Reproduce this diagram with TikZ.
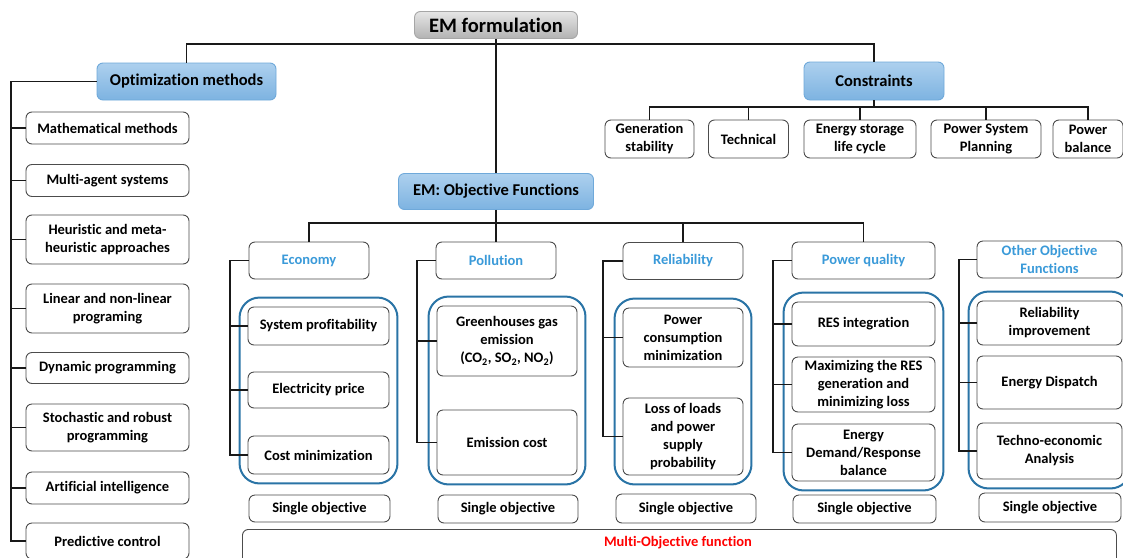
\documentclass[tikz,border=0pt]{standalone}
\usepackage{fontspec}
\setmainfont{Carlito}[Ligatures=NoCommon]
\usepackage{xcolor}
\usetikzlibrary{positioning,fit,calc}

\definecolor{maintop}{HTML}{ADD0EE}
\definecolor{mainbot}{HTML}{7DB3E1}
\definecolor{mainline}{HTML}{6FA9DA}
\definecolor{catblue}{HTML}{3A9AD9}
\definecolor{groupblue}{HTML}{2A74A6}

\begin{document}
\begin{tikzpicture}[
        %Picture in pixel units, y pointing down
        x=1pt, y=-1pt,
        link/.style={line width=1.4pt, black!90},
        item/.style={draw=black!70, line width=0.9pt, rounded corners=6pt, fill=white,
            align=center, inner sep=0pt, font=\bfseries\fontsize{14.5}{18}\selectfont},
        cat/.style={item, text=catblue},
        main/.style={draw=mainline, line width=0.9pt, rounded corners=6pt,
            top color=maintop, bottom color=mainbot, inner sep=0pt,
            font=\bfseries\fontsize{16.5}{20}\selectfont},
        group/.style={draw=groupblue, line width=2pt, rounded corners=20pt,
            inner xsep=8pt, inner ysep=9pt},
        every node/.style={color=black}
    ]
    \useasboundingbox[fill=white] (0,0) rectangle (1123,557);

    % Top level
    \node[main, draw=black!35, top color=black!10, bottom color=black!30,
        font=\bfseries\fontsize{20.5}{24}\selectfont,
        minimum width=163, minimum height=27] (emf) at (496,25) {EM formulation};
    \node[main, minimum width=179, minimum height=37] (opt) at (186.5,81.5) {Optimization methods};
    \node[main, minimum width=140, minimum height=38] (cons) at (874,81) {Constraints};
    \node[main, minimum width=195, minimum height=36] (obj) at (496,191.5) {EM: Objective Functions};

    % Constraints
    \node[item, minimum width=89, minimum height=38] (gs) at (649.5,139) {Generation\\stability};
    \node[item, minimum width=80, minimum height=38] (tech) at (748.5,139) {Technical};
    \node[item, minimum width=112, minimum height=38] (esl) at (860,139) {Energy storage\\life cycle};
    \node[item, minimum width=110, minimum height=38] (psp) at (986,139) {Power System\\Planning};
    \node[item, minimum width=70, minimum height=38] (pb) at (1088,139) {Power\\balance};

    % Optimization methods
    \node[item, minimum width=163, minimum height=32] (mm) at (107.5,128) {Mathematical methods};
    \node[item, minimum width=163, minimum height=32] (mas) at (107.5,180.5) {Multi-agent systems};
    \node[item, minimum width=163, minimum height=49] (heu) at (107.5,239.5) {Heuristic and meta-\\heuristic approaches};
    \node[item, minimum width=163, minimum height=49] (lin) at (107.5,308.5) {Linear and non-linear\\programing};
    \node[item, minimum width=163, minimum height=31] (dyn) at (107.5,368) {Dynamic programming};
    \node[item, minimum width=163, minimum height=47] (sto) at (107.5,427.5) {Stochastic and robust\\programming};
    \node[item, minimum width=163, minimum height=32] (ai) at (107.5,488) {Artificial intelligence};
    \node[item, minimum width=163, minimum height=36] (pc) at (107.5,541) {Predictive control};

    % Objective function families
    \node[cat, minimum width=120, minimum height=37] (eco) at (309,260.5) {Economy};
    \node[cat, minimum width=120, minimum height=37] (pol) at (496,260.5) {Pollution};
    \node[cat, minimum width=120, minimum height=37] (rel) at (683,261) {Reliability};
    \node[cat, minimum width=143, minimum height=37] (pq) at (863.5,260.5) {Power quality};
    \node[cat, minimum width=145, minimum height=37] (oth) at (1049.5,259.5) {Other Objective\\Functions};

    % Economy
    \node[item, minimum width=141, minimum height=38] (sp) at (318.5,326) {System profitability};
    \node[item, minimum width=141, minimum height=36] (ep) at (318.5,390) {Electricity price};
    \node[item, minimum width=141, minimum height=38] (cm) at (318.5,455) {Cost minimization};
    % Pollution
    \node[item, minimum width=140, minimum height=70] (gg) at (507,341)
        {Greenhouses gas\\emission\\(CO\textsubscript{2}, SO\textsubscript{2}, NO\textsubscript{2})};
    \node[item, minimum width=140, minimum height=65] (ec) at (507,442.5) {Emission cost};
    % Reliability
    \node[item, minimum width=120, minimum height=59] (pcm) at (683,337.5) {Power\\consumption\\minimization};
    \node[item, minimum width=120, minimum height=77] (lol) at (683,436.5) {Loss of loads\\and power\\supply\\probability};
    % Power quality
    \node[item, minimum width=143, minimum height=44] (res) at (863.5,324) {RES integration};
    \node[item, minimum width=143, minimum height=55] (mx) at (863.5,384.5) {Maximizing the RES\\generation and\\minimizing loss};
    \node[item, minimum width=143, minimum height=57] (edr) at (863.5,452.5) {Energy\\Demand/Response\\balance};
    % Other
    \node[item, minimum width=145, minimum height=44] (ri) at (1049.5,323) {Reliability\\improvement};
    \node[item, minimum width=145, minimum height=53] (ed) at (1049.5,382.5) {Energy Dispatch};
    \node[item, minimum width=145, minimum height=56] (tea) at (1049.5,451) {Techno-economic\\Analysis};

    % Blue groups
    \node[group, fit=(sp)(cm)] (ecoG) {};
    \node[group, fit=(gg)(ec)] (polG) {};
    \node[group, fit=(pcm)(lol)] (relG) {};
    \node[group, fit=(res)(edr)] (pqG) {};
    \node[group, fit=(ri)(tea)] (othG) {};

    % Single objective
    \node[item, minimum width=141, minimum height=27] (so1) at (319.5,508.5) {Single objective};
    \node[item, minimum width=140, minimum height=28] (so2) at (508,509) {Single objective};
    \node[item, minimum width=140, minimum height=29] (so3) at (686,508.5) {Single objective};
    \node[item, minimum width=143, minimum height=28] (so4) at (864.5,509) {Single objective};
    \node[item, minimum width=142, minimum height=29] (so5) at (1050,507.5) {Single objective};

    % Multi objective
    \node[item, anchor=north west, minimum width=874, minimum height=46] (multi) at (242,529) {};
    \node[font=\bfseries\fontsize{14.5}{18}\selectfont, text=red] (multilbl) at (678,543) {Multi-Objective function};

    % Connectors
    \coordinate (top) at (496,44);
    \coordinate (cbar) at (874,107);
    \coordinate (obar) at (496,223);
    \draw[link] (opt.north) |- (top) -| (cons.north);
    \draw[link] (emf.south) -- (obj.north);
    \draw[link] (cons.south) -- (cbar);
    \draw[link] (gs.north) |- (cbar) -| (pb.north);
    \foreach \n in {tech,esl,psp}
        \draw[link] (\n.north) -- (\n.north |- cbar);
    \draw[link] (eco.north) |- (obar) -| (pq.north);
    \draw[link] (obj.south) -- (pol.north);
    \draw[link] (rel.north) -- (rel.north |- obar);

    % Brackets
    \coordinate (optB) at (11,0);
    \draw[link] (opt.west) -| (optB |- pc.west) -- (pc.west);
    \foreach \n in {mm,mas,heu,lin,dyn,sto,ai}
        \draw[link] (optB |- \n.west) -- (\n.west);
    \coordinate (ecoB) at (230,0);
    \draw[link] (eco.west) -| (ecoB |- cm.west) -- (cm.west);
    \draw[link] (ecoB |- sp.west) -- (sp.west);
    \draw[link] (ecoB |- ep.west) -- (ep.west);
    \coordinate (polB) at (417,0);
    \draw[link] (pol.west) -| (polB |- ec.west) -- (ec.west);
    \draw[link] (polB |- gg.west) -- (gg.west);
    \coordinate (relB) at (603,0);
    \draw[link] (rel.west) -| (relB |- lol.west) -- (lol.west);
    \draw[link] (relB |- pcm.west) -- (pcm.west);
    \coordinate (pqB) at (773,0);
    \draw[link] (pq.west) -| (pqB |- edr.west) -- (edr.west);
    \draw[link] (pqB |- res.west) -- (res.west);
    \draw[link] (pqB |- mx.west) -- (mx.west);
    \coordinate (othB) at (959,0);
    \draw[link] (oth.west) -| (othB |- tea.west) -- (tea.west);
    \draw[link] (othB |- ri.west) -- (ri.west);
    \draw[link] (othB |- ed.west) -- (ed.west);
\end{tikzpicture}
\end{document}
